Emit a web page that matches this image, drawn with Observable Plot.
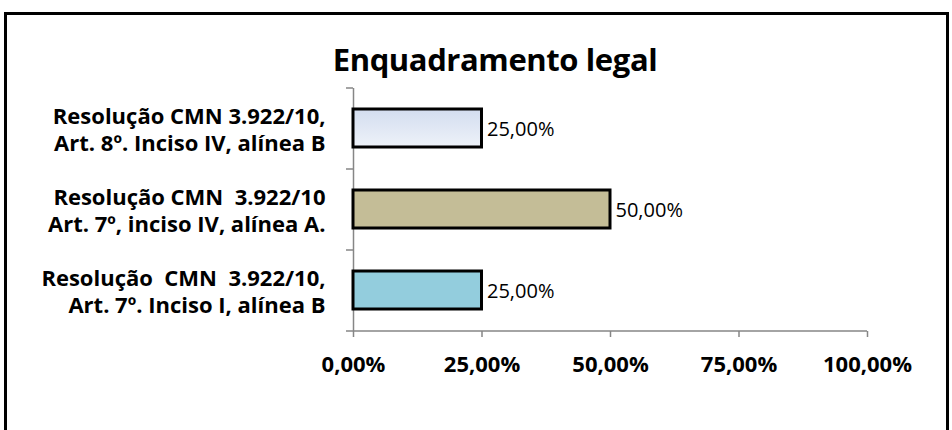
<!DOCTYPE html>
<html><head><meta charset="utf-8">
<script src="https://cdn.jsdelivr.net/npm/d3@7"></script>
<script src="https://cdn.jsdelivr.net/npm/@observablehq/plot@0.6"></script>
<style>
body{margin:0;width:952px;height:430px;overflow:hidden;background:#fff;position:relative;font-family:"Open Sans",Lato,sans-serif;}
#frame{position:absolute;left:4px;top:12px;width:945px;height:470px;border:3px solid #000;box-sizing:border-box;}
#title{position:absolute;left:195px;width:600px;top:39px;text-align:center;font-weight:bold;font-size:31px;line-height:40px;color:#000;letter-spacing:-0.4px;}
#chart{position:absolute;left:0;top:0;}
svg text{white-space:pre;}
</style></head><body>
<svg width="0" height="0" style="position:absolute">
  <defs>
    <linearGradient id="gradTop" x1="0" y1="0" x2="0" y2="1">
      <stop offset="0" stop-color="#d3ddef"/>
      <stop offset="1" stop-color="#eef2f9"/>
    </linearGradient>
  </defs>
</svg>
<div id="frame"></div>
<div id="title">Enquadramento legal</div>
<div id="chart"></div>
<script>
const categories = [
  "Resolução CMN 3.922/10,\nArt. 8º. Inciso IV, alínea B",
  "Resolução CMN  3.922/10\nArt. 7º, inciso IV, alínea A.",
  "Resolução  CMN  3.922/10,\nArt. 7º. Inciso I, alínea B"
];
const values = [0.25, 0.50, 0.25];
const colors = ["url(#gradTop)", "#c4bd97", "#93cddd"];
const xTicks = [0, 0.25, 0.50, 0.75, 1.00];

const fmt = d => (d * 100).toFixed(2).replace(".", ",") + "%";
const W = 952, H = 430, mL = 353, mR = 85, mT = 88, mB = 99;
const step = (H - mT - mB) / categories.length;
const px = 1 / (W - mL - mR);
const data = categories.map((c, i) => ({cat: c, value: values[i], color: colors[i]}));
const axisGray = "#868686";

const chart = Plot.plot({
  width: W, height: H,
  marginLeft: mL, marginRight: mR, marginTop: mT, marginBottom: mB,
  style: {fontFamily: "'Open Sans', Lato, sans-serif", background: "transparent", overflow: "visible", color: "#000"},
  x: {domain: [0, 1], label: null},
  y: {domain: categories, paddingInner: 0.53, paddingOuter: 0.265, label: null},
  color: {type: "identity"},
  marks: [
    Plot.ruleX([0], {stroke: axisGray, strokeWidth: 1.5}),
    Plot.ruleY([categories[categories.length - 1]], {y: d => d, x1: -7 * px, x2: 1, dy: step / 2, stroke: axisGray, strokeWidth: 1.5}),
    Plot.ruleY(categories, {y: d => d, x1: -7 * px, x2: 0, dy: -step / 2, stroke: axisGray, strokeWidth: 1.5}),
    Plot.barX(data, {x: "value", y: "cat", fill: "color", stroke: "#000", strokeWidth: 3}),
    Plot.text(data, {x: "value", y: "cat", text: d => fmt(d.value), dx: 5, dy: 1, textAnchor: "start", fontSize: 20, fill: "#000"}),
    Plot.axisX({ticks: xTicks, tickFormat: fmt, tickSize: 6, tickPadding: 19, stroke: axisGray, strokeWidth: 1.5, fill: "#000", fontWeight: "bold", fontSize: 22, label: null}),
    Plot.axisY({tickSize: 0, tickPadding: 28, fontWeight: "bold", fontSize: 22, lineHeight: 1.24, fill: "#000", label: null})
  ]
});
document.getElementById("chart").appendChild(chart);
</script>
</body></html>
